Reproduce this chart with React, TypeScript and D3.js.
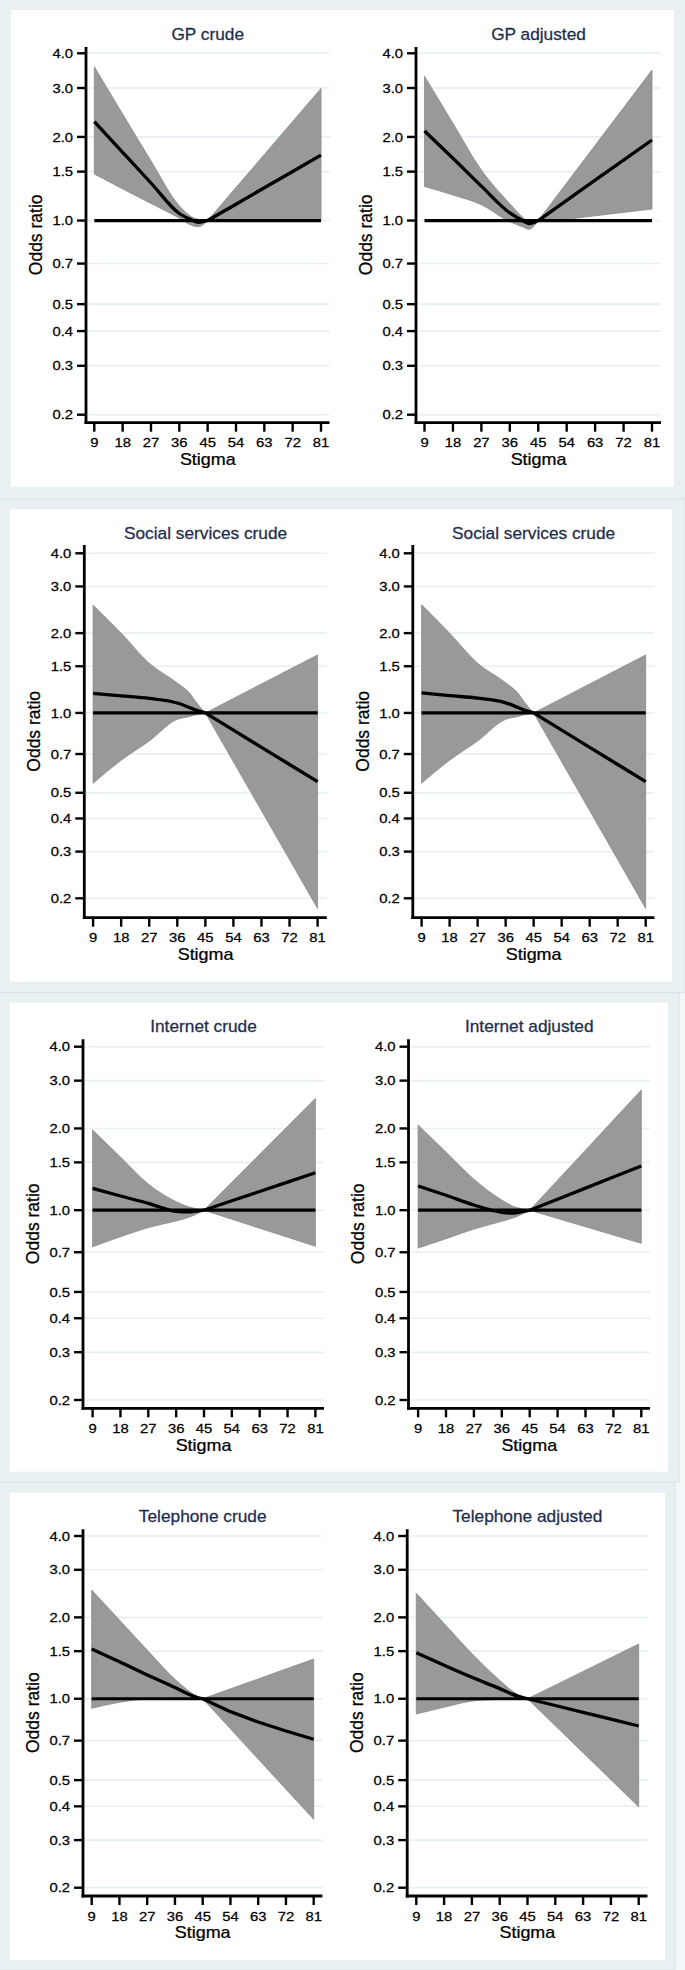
import React from "react";
import * as d3 from "d3";

// ---------- DATA ----------
const STIGMA = [9, 18, 27, 36, 40, 42, 45, 54, 63, 72, 81];
const PIVOT = 45; // reference stigma value (OR = 1)
const X_TICKS = [9, 18, 27, 36, 45, 54, 63, 72, 81];
const Y_TICKS = [0.2, 0.3, 0.4, 0.5, 0.7, 1.0, 1.5, 2.0, 3.0, 4.0];
const Y_TICK_LABELS = ["0.2", "0.3", "0.4", "0.5", "0.7", "1.0", "1.5", "2.0", "3.0", "4.0"];
const REFERENCE_OR = 1.0;
const X_TITLE = "Stigma";
const Y_TITLE = "Odds ratio";

const TITLES = [
  "GP crude", "GP adjusted",
  "Social services crude", "Social services crude",
  "Internet crude", "Internet adjusted",
  "Telephone crude", "Telephone adjusted",
];

const gpCrudeEst = [2.27, 1.76, 1.365, 1.06, 1.005, 0.985, 1.0, 1.145, 1.312, 1.502, 1.72];
const gpCrudeHi = [3.58, 2.42, 1.64, 1.13, 1.03, 1.01, 1.0, 1.315, 1.729, 2.274, 2.99];
const gpCrudeLo = [1.47, 1.3, 1.152, 1.02, 0.96, 0.95, 1.0, 1.0, 1.0, 1.0, 1.0];

const gpAdjEst = [2.1, 1.675, 1.33, 1.065, 1.0, 0.975, 1.0, 1.182, 1.397, 1.65, 1.95];
const gpAdjHi = [3.31, 2.24, 1.52, 1.15, 1.03, 0.99, 1.0, 1.366, 1.866, 2.549, 3.48];
const gpAdjLo = [1.325, 1.236, 1.14, 0.99, 0.95, 0.93, 1.0, 1.01, 1.04, 1.07, 1.1];

const socCrudeEst = [1.186, 1.16, 1.135, 1.09, 1.047, 1.025, 1.0, 0.862, 0.742, 0.639, 0.551];
const socCrudeHi = [2.55, 2.0, 1.54, 1.297, 1.186, 1.1, 1.0, 1.134, 1.287, 1.459, 1.655];
const socCrudeLo = [0.543, 0.663, 0.784, 0.946, 0.97, 0.985, 1.0, 0.654, 0.428, 0.28, 0.183];

const socAdjEst = [1.19, 1.162, 1.137, 1.092, 1.048, 1.025, 1.0, 0.862, 0.742, 0.639, 0.551];
const socAdjHi = [2.56, 2.0, 1.54, 1.3, 1.186, 1.1, 1.0, 1.134, 1.287, 1.459, 1.655];
const socAdjLo = [0.543, 0.663, 0.784, 0.946, 0.97, 0.985, 1.0, 0.654, 0.428, 0.28, 0.183];

const netCrudeEst = [1.204, 1.128, 1.06, 0.99, 0.985, 0.99, 1.0, 1.083, 1.172, 1.269, 1.374];
const netCrudeHi = [1.974, 1.57, 1.248, 1.075, 1.03, 1.015, 1.0, 1.268, 1.607, 2.037, 2.58];
const netCrudeLo = [0.734, 0.798, 0.863, 0.913, 0.94, 0.96, 1.0, 0.926, 0.858, 0.795, 0.736];

const netAdjEst = [1.228, 1.135, 1.045, 0.982, 0.975, 0.985, 1.0, 1.098, 1.206, 1.325, 1.455];
const netAdjHi = [2.06, 1.637, 1.3, 1.09, 1.03, 1.015, 1.0, 1.29, 1.664, 2.147, 2.77];
const netAdjLo = [0.725, 0.785, 0.852, 0.91, 0.94, 0.96, 1.0, 0.932, 0.869, 0.81, 0.755];

const telCrudeEst = [1.527, 1.37, 1.224, 1.1, 1.045, 1.022, 1.0, 0.896, 0.82, 0.76, 0.708];
const telCrudeHi = [2.525, 1.955, 1.514, 1.18, 1.08, 1.04, 1.0, 1.088, 1.184, 1.289, 1.402];
const telCrudeLo = [0.922, 0.97, 1.0, 1.01, 1.005, 1.0, 1.0, 0.774, 0.598, 0.463, 0.358];

const telAdjEst = [1.48, 1.33, 1.2, 1.09, 1.04, 1.02, 1.0, 0.944, 0.891, 0.84, 0.793];
const telAdjHi = [2.454, 1.9, 1.47, 1.17, 1.07, 1.035, 1.0, 1.123, 1.262, 1.418, 1.594];
const telAdjLo = [0.878, 0.93, 0.98, 0.995, 1.0, 1.0, 1.0, 0.795, 0.631, 0.502, 0.398];

const SERIES = [
  [gpCrudeEst, gpCrudeLo, gpCrudeHi],
  [gpAdjEst, gpAdjLo, gpAdjHi],
  [socCrudeEst, socCrudeLo, socCrudeHi],
  [socAdjEst, socAdjLo, socAdjHi],
  [netCrudeEst, netCrudeLo, netCrudeHi],
  [netAdjEst, netAdjLo, netAdjHi],
  [telCrudeEst, telCrudeLo, telCrudeHi],
  [telAdjEst, telAdjLo, telAdjHi],
];

// ---------- LAYOUT ----------
const W = 685;
const H = 1970;
const ROWS = [
  {
    frame: null,
    panel: [11, 10, 674, 486.7], y4: 53.3, y02: 414.7, axisTop: 47, axisBottom: 422.7, titleY: 40,
    cols: [
      { axisX: 86, x9: 94.3, x81: 321, endX: 329.5 },
      { axisX: 416, x9: 424.5, x81: 652, endX: 661 },
    ],
  },
  {
    frame: [0, 499.3, 685, 992.7],
    panel: [9.6, 509.3, 672, 981.7], y4: 553.3, y02: 898.3, axisTop: 545, axisBottom: 917.7, titleY: 539.3,
    cols: [
      { axisX: 84.3, x9: 93.1, x81: 317.6, endX: 326.8 },
      { axisX: 412.8, x9: 421.6, x81: 645.7, endX: 654.4 },
    ],
  },
  {
    frame: [0, 992.7, 679, 1482],
    panel: [9.6, 1002.7, 668, 1471.7], y4: 1046.7, y02: 1400, axisTop: 1039.3, axisBottom: 1408.3, titleY: 1032.3,
    cols: [
      { axisX: 83, x9: 92.6, x81: 315.4, endX: 324 },
      { axisX: 408.5, x9: 418.1, x81: 641.3, endX: 650 },
    ],
  },
  {
    frame: [0, 1482, 675, 1970],
    panel: [9.6, 1492.7, 665, 1960], y4: 1536, y02: 1887.7, axisTop: 1529.3, axisBottom: 1896, titleY: 1521.7,
    cols: [
      { axisX: 83, x9: 91.7, x81: 313.7, endX: 322.4 },
      { axisX: 407.2, x9: 416.3, x81: 638.7, endX: 647.5 },
    ],
  },
];

const FONT = "'Liberation Sans', Arial, Helvetica, sans-serif";
const BG = "#e8f0f2";
const PAGE = "#f3f7f8";
const FRAME_EDGE = "#dae3e6";
const GRID = "#e6eff1";
const BAND_FILL = "#999999";
const BAND_EDGE = "#8a8a8a";
const TITLE_COLOR = "#1f2d4d";

function SText({ x, y, size, sx = 1, anchor = "middle", fill = "#000", rotate = 0, children }) {
  const tr = rotate
    ? `translate(${x},${y}) rotate(${rotate}) scale(1,${sx})`
    : `translate(${x},${y}) scale(${sx},1)`;
  return (
    <text
      transform={tr}
      textAnchor={anchor}
      fontSize={size}
      fontFamily={FONT}
      fill={fill}
      stroke={fill}
      strokeWidth={0.25}
    >
      {children}
    </text>
  );
}

function Panel({ row, col, idx }) {
  const x = d3.scaleLinear().domain([X_TICKS[0], X_TICKS[X_TICKS.length - 1]]).range([col.x9, col.x81]);
  const y = d3.scaleLog().domain([Y_TICKS[0], Y_TICKS[Y_TICKS.length - 1]]).range([row.y02, row.y4]);
  const [est, lo, hi] = SERIES[idx];
  const pts = STIGMA.map((s, i) => ({ s, est: est[i], lo: lo[i], hi: hi[i] }));
  const left = pts.filter((d) => d.s <= PIVOT);
  const right = pts.filter((d) => d.s >= PIVOT);
  const mkArea = (curve) =>
    d3.area().x((d) => x(d.s)).y0((d) => y(d.lo)).y1((d) => y(d.hi)).curve(curve);
  const mkLine = (curve) => d3.line().x((d) => x(d.s)).y((d) => y(d.est)).curve(curve);
  const cx = (col.axisX + col.endX) / 2;
  const cy = (row.axisTop + row.axisBottom) / 2;
  return (
    <g>
      {Y_TICKS.map((t) => (
        <line key={"g" + t} x1={col.axisX + 2} x2={col.endX} y1={y(t)} y2={y(t)} stroke={GRID} strokeWidth={1.6} />
      ))}
      <path d={mkArea(d3.curveMonotoneX)(left)} fill={BAND_FILL} stroke={BAND_EDGE} strokeWidth={0.8} />
      <path d={mkArea(d3.curveLinear)(right)} fill={BAND_FILL} stroke={BAND_EDGE} strokeWidth={0.8} />
      <line
        x1={x(X_TICKS[0])}
        x2={x(X_TICKS[X_TICKS.length - 1])}
        y1={y(REFERENCE_OR)}
        y2={y(REFERENCE_OR)}
        stroke="#000"
        strokeWidth={3.2}
      />
      <path d={mkLine(d3.curveMonotoneX)(left)} fill="none" stroke="#000" strokeWidth={3.3} strokeLinejoin="round" />
      <path d={mkLine(d3.curveLinear)(right)} fill="none" stroke="#000" strokeWidth={3.3} strokeLinejoin="round" />
      <line x1={col.axisX} x2={col.axisX} y1={row.axisTop} y2={row.axisBottom + 1.4} stroke="#000" strokeWidth={2.8} />
      <line x1={col.axisX - 1.4} x2={col.endX} y1={row.axisBottom} y2={row.axisBottom} stroke="#000" strokeWidth={2.8} />
      {Y_TICKS.map((t, i) => (
        <g key={"yt" + t}>
          <line x1={col.axisX - 9} x2={col.axisX} y1={y(t)} y2={y(t)} stroke="#000" strokeWidth={2.4} />
          <SText x={col.axisX - 13} y={y(t) + 4.6} size={13} sx={1.14} anchor="end">
            {Y_TICK_LABELS[i]}
          </SText>
        </g>
      ))}
      {X_TICKS.map((t) => (
        <g key={"xt" + t}>
          <line x1={x(t)} x2={x(t)} y1={row.axisBottom} y2={row.axisBottom + 9} stroke="#000" strokeWidth={2.4} />
          <SText x={x(t)} y={row.axisBottom + 24.6} size={13} sx={1.14}>
            {t}
          </SText>
        </g>
      ))}
      <SText x={cx} y={row.axisBottom + 42.3} size={16} sx={1.12}>
        {X_TITLE}
      </SText>
      <SText x={col.axisX - 44.3} y={cy} size={17.5} sx={1.08} rotate={-90}>
        {Y_TITLE}
      </SText>
      <SText x={cx} y={row.titleY} size={16} sx={1.08} fill={TITLE_COLOR}>
        {TITLES[idx]}
      </SText>
    </g>
  );
}

export default function App() {
  return (
    <svg
      width={W}
      height={H}
      viewBox={`0 0 ${W} ${H}`}
      style={{ position: "absolute", left: 0, top: 0, display: "block" }}
    >
      <rect x={0} y={0} width={W} height={H} fill={PAGE} />
      <rect x={0} y={0} width={W} height={499.3} fill={BG} />
      {ROWS.map((row, r) => (
        <g key={"row" + r}>
          {row.frame && (
            <rect
              x={row.frame[0] - 1}
              y={row.frame[1]}
              width={row.frame[2] - row.frame[0] + 1}
              height={row.frame[3] - row.frame[1]}
              fill={BG}
              stroke={FRAME_EDGE}
              strokeWidth={1}
            />
          )}
          <rect
            x={row.panel[0]}
            y={row.panel[1]}
            width={row.panel[2] - row.panel[0]}
            height={row.panel[3] - row.panel[1]}
            fill="#ffffff"
          />
          {row.cols.map((col, c) => (
            <Panel key={"p" + r + c} row={row} col={col} idx={r * 2 + c} />
          ))}
        </g>
      ))}
    </svg>
  );
}
